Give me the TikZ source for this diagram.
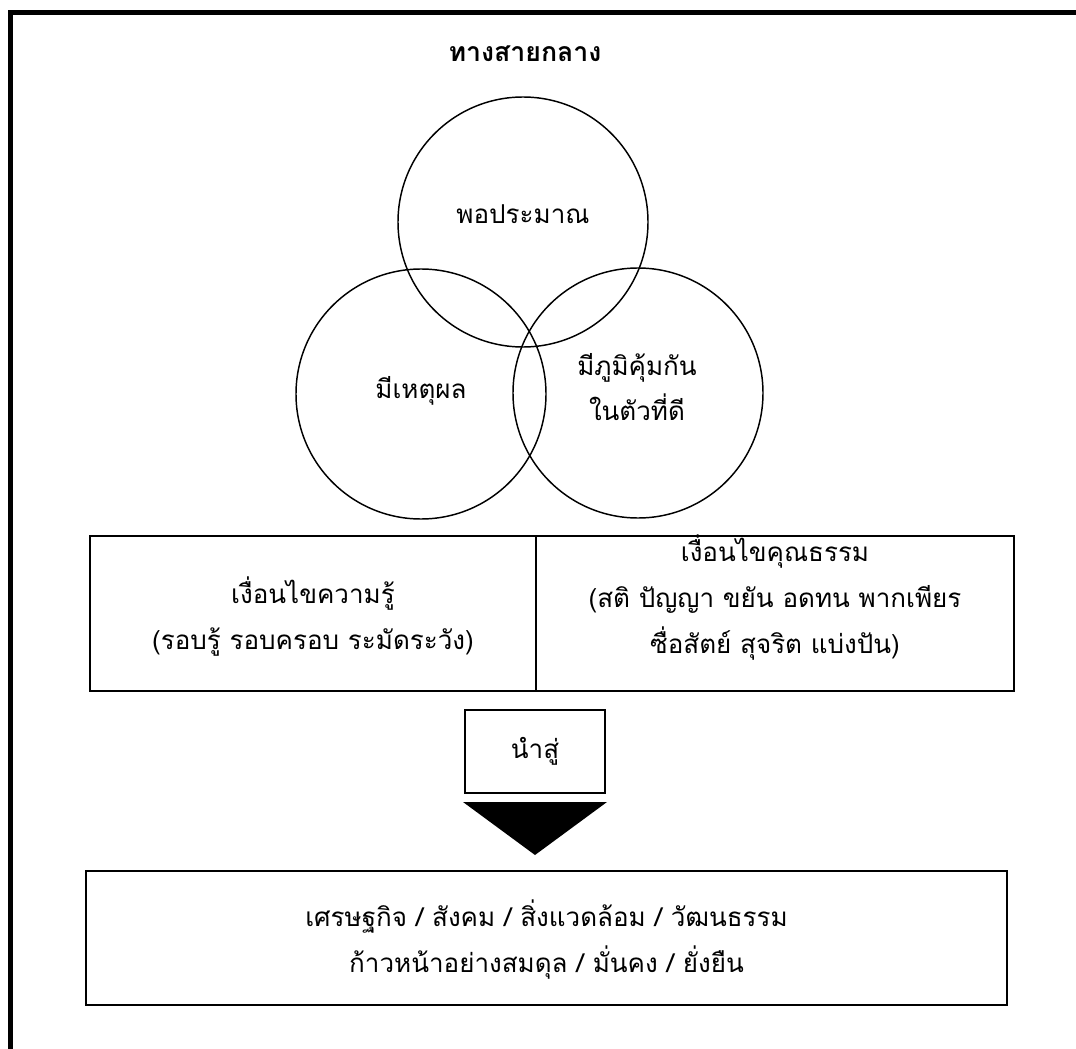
\documentclass[tikz,border=0pt]{standalone}
\usepackage{fontspec}
\newfontfamily\thai[Script=Thai]{Loma}
\begin{document}
\begin{tikzpicture}[x=0.75pt,y=-0.75pt,
  every node/.style={font=\thai},
  circ/.style={draw, circle, line width=1.1pt, minimum size=187.5pt, inner sep=0pt},
  circtext/.style={align=center, font=\thai\fontsize{19.5}{34}\selectfont},
  cellbox/.style={draw, line width=2pt, inner sep=0pt},
  celltext/.style={align=center, font=\thai\fontsize{19.5}{34.5}\selectfont},
  frameline/.style={line width=3.75pt}]
\useasboundingbox (0,0) rectangle (1076,1049);
% frame
\coordinate (fb) at (10.5,1049);
\coordinate (fc) at (10.5,12.5);
\coordinate (fr) at (1076,12.5);
\draw[frameline] (fb) -- (fc) -- (fr);
% title
\node[font=\thai\bfseries\fontsize{20}{24}\selectfont] (title) at (525,54) {ทางสายกลาง};
% circles
\node[circ] (ctop) at (523,222) {};
\node[circ] (cleft) at (421,394) {};
\node[circ] (cright) at (638,393) {};
\node[circtext] (ttop) at (523,214) {พอประมาณ};
\node[circtext] (tleft) at (421,391) {มีเหตุผล};
\node[circtext] (tright) at (637,387) {มีภูมิคุ้มกัน\\ในตัวที่ดี};
% table
\node[cellbox, minimum width=334.5pt, minimum height=116.25pt] (cellL) at (313,613.5) {};
\node[cellbox, minimum width=358.5pt, minimum height=116.25pt] (cellR) at (775,613.5) {};
\node[celltext] (textL) at ([yshift=-2pt]cellL.center) {เงื่อนไขความรู้\\(รอบรู้ รอบครอบ ระมัดระวัง)};
\node[celltext] (textR) at ([yshift=12pt]cellR.center) {เงื่อนไขคุณธรรม\\(สติ ปัญญา ขยัน อดทน พากเพียร\\ซื่อสัตย์ สุจริต แบ่งปัน)};
% lead-to box
\node[cellbox, line width=1.8pt, minimum width=105pt, minimum height=62.25pt, celltext] (nam) at (535,751.5) {นำสู่};
% triangle
\coordinate (triL) at (463,802);
\coordinate (triR) at (607,802);
\coordinate (triA) at (535,855);
\fill (triL) -- (triR) -- (triA) -- cycle;
% result box
\node[cellbox, minimum width=690.75pt, minimum height=100.5pt] (result) at (546.5,938) {};
\node[celltext] (textRes) at ([yshift=-1pt]result.center) {เศรษฐกิจ / สังคม / สิ่งแวดล้อม / วัฒนธรรม\\ก้าวหน้าอย่างสมดุล / มั่นคง / ยั่งยืน};
\end{tikzpicture}
\end{document}
